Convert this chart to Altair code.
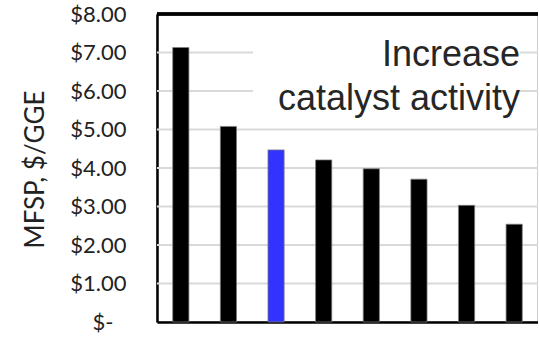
import altair as alt
import pandas as pd

scenarios = ["1", "2", "3", "4", "5", "6", "7", "8"]
mfsp = [7.13, 5.08, 4.47, 4.21, 3.98, 3.71, 3.03, 2.54]
highlight = "3"
y_ticks = [0, 1, 2, 3, 4, 5, 6, 7, 8]
note_lines = ["Increase", "catalyst activity"]

df = pd.DataFrame({"scenario": scenarios, "mfsp": mfsp})
grid_df = pd.DataFrame({"mfsp": y_ticks[1:-1]})

W, H = 381, 308
yscale = alt.Scale(domain=[0, 8], nice=False)

base = alt.Chart(df)

grid = alt.Chart(grid_df).mark_rule(color="#d9d9d9", strokeWidth=2).encode(
    y=alt.Y("mfsp:Q", scale=yscale, axis=None)
)

box = alt.Chart(grid_df).mark_rect(fill="white", opacity=0.6).encode(
    x=alt.value(96), x2=alt.value(363), y=alt.value(22), y2=alt.value(100)
)

bars = base.mark_bar(stroke="#7f7f7f", strokeWidth=0.75).encode(
    x=alt.X("scenario:N", sort=scenarios,
            scale=alt.Scale(paddingInner=0.66, paddingOuter=0.33),
            axis=alt.Axis(labels=False, ticks=False, title=None,
                          domainColor="black", domainWidth=2.5)),
    y=alt.Y("mfsp:Q", scale=yscale,
            axis=alt.Axis(values=y_ticks, title="MFSP, $/GGE",
                          labelExpr="datum.value == 0 ? '$-' : '$' + format(datum.value, '.2f')",
                          labelFont="Lato", labelFontSize=22, labelColor="#222222",
                          labelPadding={"condition": {"test": "datum.value == 0", "value": 44}, "value": 31},
                          labelOverlap=False,
                          ticks=False, tickSize=0, grid=False,
                          domainColor="black", domainWidth=2.5,
                          titleFont="Lato", titleFontSize=26, titleFontWeight="normal",
                          titleColor="#222222", titleAngle=-90, titleX=-122, titleY=155,
                          titleAlign="center", titleBaseline="middle")),
    color=alt.condition(alt.datum.scenario == highlight, alt.value("#3333ff"), alt.value("black")),
)

top_rule = base.mark_rule(color="black", strokeWidth=2.5).encode(
    x=alt.value(0), x2=alt.value(W), y=alt.value(0)
)

note = alt.Chart(pd.DataFrame({"t": [note_lines]})).mark_text(
    font="Liberation Sans", fontSize=36, align="right", baseline="alphabetic",
    lineHeight=44, color="#262626"
).encode(text="t:N", x=alt.value(363), y=alt.value(52))

chart = alt.layer(grid, box, bars, top_rule, note).resolve_axis(y="independent").properties(
    width=W, height=H,
    autosize=alt.AutoSizeParams(type="none"),
    padding={"left": 157, "top": 14, "right": 0, "bottom": 16},
    background="white",
).configure_view(stroke="#bfbfbf", strokeWidth=1.5).configure_axisY(labelOverlap=False)

chart.save("out.html", embed_options={"renderer": "svg", "actions": False})
